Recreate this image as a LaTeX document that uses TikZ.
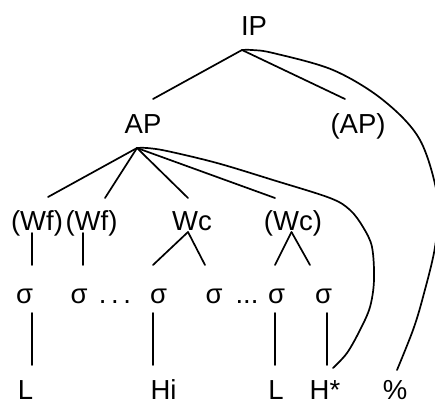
\documentclass[tikz,border=0pt]{standalone}
\usepackage{fontspec}
\setmainfont{Liberation Sans}
\begin{document}
\begin{tikzpicture}[x=1pt,y=-1pt,
  lbl/.style={inner sep=0pt, anchor=base, font=\fontsize{27.5}{30}\selectfont},
  ln/.style={line width=1.7pt, line cap=round, line join=round}]
\useasboundingbox (0,0) rectangle (435,405);
\clip (0,0) rectangle (435,405);
% labels
\node[lbl] (ip) at (254,35) {IP};
\node[lbl] (ap) at (143,133) {AP};
\node[lbl] (apo) at (358,133) {(AP)};
\node[lbl] (wf1) at (37,230) {(Wf)};
\node[lbl] (wf2) at (91.5,230) {(Wf)};
\node[lbl] (wc) at (192,230) {Wc};
\node[lbl] (wco) at (293,230) {(Wc)};
\node[lbl] (s1) at (24.5,303) {σ};
\node[lbl] (s2) at (79,303) {σ};
\node[lbl] (d1) at (115,303) {.\,.\,.};
\node[lbl] (s3) at (158.5,303) {σ};
\node[lbl] (s4) at (214,303) {σ};
\node[lbl] (d2) at (247,303) {...};
\node[lbl] (s5) at (276.5,303) {σ};
\node[lbl] (s6) at (323.5,303) {σ};
\node[lbl] (t1) at (25.5,399) {L};
\node[lbl] (t2) at (163.5,399) {Hi};
\node[lbl] (t3) at (276,399) {L};
\node[lbl] (t4) at (325,399) {H*};
\node[lbl] (t5) at (395,399) {\%};
% connector points
\coordinate (ipB) at (242,50);
\coordinate (apT) at (153,99);
\coordinate (apoT) at (345,99);
\coordinate (apB) at (137,148);
\coordinate (wf1T) at (48,197);
\coordinate (wf2T) at (105,198);
\coordinate (wcT) at (188,198);
\coordinate (wcoT) at (275,198);
\coordinate (wf1B) at (32,233);
\coordinate (wf2B) at (83,233);
\coordinate (wcB) at (188,232);
\coordinate (wcoB) at (291.5,232);
\coordinate (s1T) at (32,265);
\coordinate (s2T) at (83,265);
\coordinate (s3T) at (153,265);
\coordinate (s4T) at (205,265);
\coordinate (s5T) at (275,265);
\coordinate (s6T) at (310,265);
\coordinate (s1B) at (32,313);
\coordinate (s3B) at (153,313);
\coordinate (s5B) at (275,313);
\coordinate (s6B) at (327,313);
\coordinate (t1T) at (32,365);
\coordinate (t2T) at (153,365);
\coordinate (t3T) at (275,365);
\coordinate (t4T) at (327,365);
\coordinate (hEnd) at (333,368);
\coordinate (pEnd) at (397,370);
% tree lines
\draw[ln] (ipB) -- (apT);
\draw[ln] (ipB) -- (apoT);
\draw[ln] (apB) -- (wf1T);
\draw[ln] (apB) -- (wf2T);
\draw[ln] (apB) -- (wcT);
\draw[ln] (apB) -- (wcoT);
\draw[ln] (wf1B) -- (s1T);
\draw[ln] (wf2B) -- (s2T);
\draw[ln] (wcB) -- (s3T);
\draw[ln] (wcB) -- (s4T);
\draw[ln] (wcoB) -- (s5T);
\draw[ln] (wcoB) -- (s6T);
\draw[ln] (s1B) -- (t1T);
\draw[ln] (s3B) -- (t2T);
\draw[ln] (s5B) -- (t3T);
\draw[ln] (s6B) -- (t4T);
% arcs
\draw[ln] plot[smooth, tension=0.55] coordinates {(ipB) (252,50) (273,53) (333,70) (383,100) (420,140) (438,200) (435,247) (423,297) (413,330) (pEnd)};
\draw[ln] plot[smooth, tension=0.55] coordinates {(apB) (147,148) (167,151) (217,163) (273,180) (330,198) (350,210) (363,227) (372,247) (374,280) (370,307) (360,330) (347,353) (hEnd)};
\end{tikzpicture}
\end{document}
